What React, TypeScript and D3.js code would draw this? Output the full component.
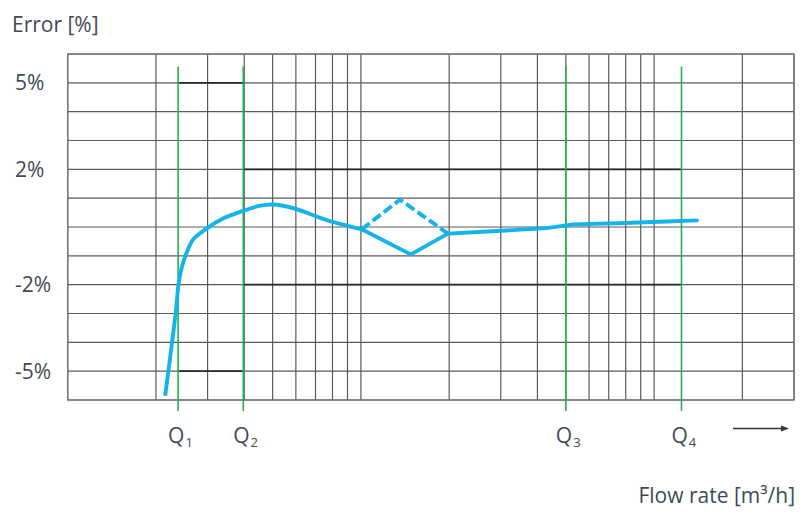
import * as d3 from "d3";
import React from "react";

// flow rate axis is logarithmic, error axis is linear in %
const xDomain = [1, 300];
const yDomain = [-6, 6];
const yTickLabels = [5, 2, -2, -5];

const qNames = ["1", "2", "3", "4"];
const qValues = [2.38, 3.97, 50, 124];

// maximum permissible error bands
const limitFrom = [2.38, 2.38, 3.97, 3.97];
const limitTo = [3.97, 3.97, 124, 124];
const limitValue = [5, -5, 2, -2];

// measured error curve (smooth start, then straight segments)
const curveFlow = [2.15, 2.34, 2.39, 2.45, 2.55, 2.68, 2.98, 3.4, 3.97, 4.5, 5.0, 5.9, 7.6, 10.06];
const curveError = [-5.85, -2.9, -1.95, -1.4, -0.87, -0.43, -0.05, 0.3, 0.56, 0.73, 0.78, 0.65, 0.25, -0.08];
const tailFlow = [10.06, 14.8, 19.8, 31.4, 43, 53, 80, 116, 140];
const tailError = [-0.08, -0.95, -0.23, -0.12, -0.04, 0.09, 0.14, 0.2, 0.23];
const dashFlow = [10.06, 13.6, 19.8];
const dashError = [-0.08, 0.95, -0.23];

const W = 805;
const H = 519;
const left = 67.7;
const right = 794;
const top = 54;
const bottom = 400;

const font = "'Open Sans', sans-serif";
const textColor = "#404a55";
const blue = "#14b4ea";
const green = "#22b24c";

export default function App() {
  const x = d3.scaleLog().domain(xDomain).range([left, right]);
  const y = d3.scaleLinear().domain(yDomain).range([bottom, top]);

  const vTicks: number[] = [];
  for (let dec = 1; dec <= 100; dec *= 10) {
    for (let m = 1; m <= 9; m++) {
      const v = m * dec;
      if (v <= xDomain[1]) vTicks.push(v);
    }
  }
  const hTicks = d3.range(yDomain[0], yDomain[1] + 1, 1);

  const smooth = d3
    .line<number>()
    .x((d, i) => x(curveFlow[i]))
    .y((d) => y(d))
    .curve(d3.curveCatmullRom.alpha(0.5));
  const straight = d3
    .line<[number, number]>()
    .x((d) => x(d[0]))
    .y((d) => y(d[1]));

  const tail = tailFlow.map((f, i) => [f, tailError[i]] as [number, number]);
  const dash = dashFlow.map((f, i) => [f, dashError[i]] as [number, number]);

  return (
    <svg
      width={W}
      height={H}
      style={{ position: "absolute", left: 0, top: 0, background: "#fff" }}
    >
      <text x={12} y={32} fontFamily={font} fontSize={21} fill={textColor}>
        Error [%]
      </text>

      <g>
        {hTicks.map((t) => (
          <line key={"h" + t} x1={left} x2={right} y1={y(t)} y2={y(t)} stroke="#5a5a5a" strokeWidth={1.2} />
        ))}
        {vTicks.map((t) => (
          <line key={"v" + t} x1={x(t)} x2={x(t)} y1={top} y2={bottom} stroke="#5a5a5a" strokeWidth={1.2} />
        ))}
        <rect x={left} y={top} width={right - left} height={bottom - top} fill="none" stroke="#777" strokeWidth={1.4} />
      </g>

      {limitValue.map((v, i) => (
        <line
          key={"l" + i}
          x1={x(limitFrom[i])}
          x2={x(limitTo[i])}
          y1={y(v)}
          y2={y(v)}
          stroke="#2a2a2a"
          strokeWidth={1.7}
        />
      ))}

      {yTickLabels.map((t) => (
        <text
          key={"yl" + t}
          x={15}
          y={y(t)}
          dy="0.36em"
          fontFamily={font}
          fontSize={21}
          fill={textColor}
        >
          {t + "%"}
        </text>
      ))}

      {qValues.map((q, i) => (
        <g key={"q" + i}>
          <line x1={x(q)} x2={x(q)} y1={66.5} y2={411} stroke={green} strokeWidth={1.6} />
          <text x={x(q) - 10} y={443} fontFamily={font} fontSize={21} fill={textColor}>
            Q
            <tspan fontSize={13} dy={4} dx={1}>
              {qNames[i]}
            </tspan>
          </text>
        </g>
      ))}

      <path d={smooth(curveError) || ""} fill="none" stroke={blue} strokeWidth={3.9} strokeLinejoin="round" strokeLinecap="butt" />
      <path d={straight(tail) || ""} fill="none" stroke={blue} strokeWidth={3.9} strokeLinejoin="round" strokeLinecap="round" />
      <path d={straight(dash) || ""} fill="none" stroke={blue} strokeWidth={3.9} strokeDasharray="10,4" />

      <line x1={733} x2={782} y1={428.5} y2={428.5} stroke="#333" strokeWidth={1.3} />
      <path d="M781,425.5 L789,428.5 L781,431.5 Z" fill="#333" />

      <text x={795} y={503} textAnchor="end" fontFamily={font} fontSize={21} fill={textColor}>
        Flow rate [m³/h]
      </text>
    </svg>
  );
}
